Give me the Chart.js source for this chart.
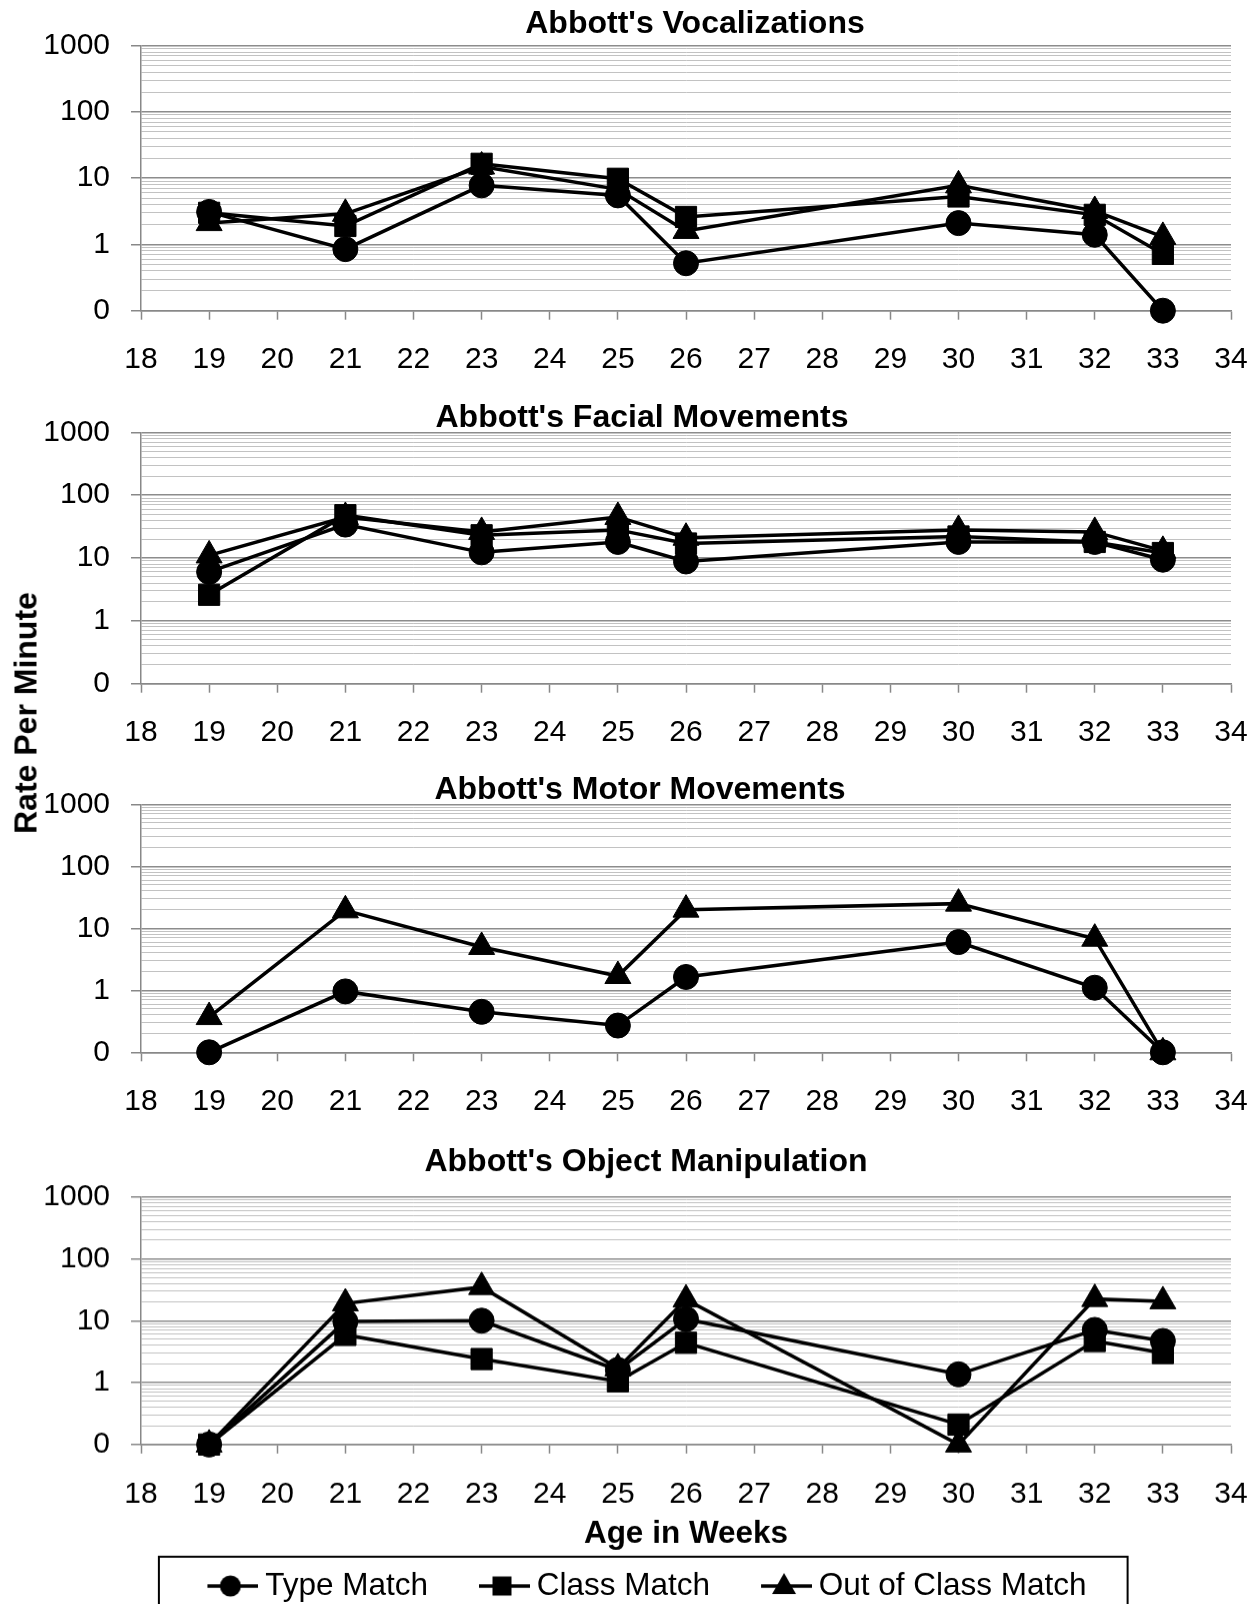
<!DOCTYPE html>
<html>
<head>
<meta charset="utf-8">
<title>Abbott's rates per minute</title>
<script src="https://cdn.jsdelivr.net/npm/chart.js@4.4.1/dist/chart.umd.min.js"></script>
<style>
  html, body { margin: 0; padding: 0; background: #fff; overflow: hidden; }
  body { width: 1255px; height: 1604px; position: relative; }
  .panel { position: absolute; left: 0; }
  #yTitle {
    position: absolute; left: 26px; top: 713px;
    transform: translate(-50%, -50%) rotate(-90deg);
    font: bold 32px "Liberation Sans", Arial, sans-serif;
    white-space: nowrap; color: #000;
  }
</style>
</head>
<body>
<div class="panel" id="p1"><canvas id="c1"></canvas></div>
<div class="panel" id="p2"><canvas id="c2"></canvas></div>
<div class="panel" id="p3"><canvas id="c3"></canvas></div>
<div class="panel" id="p4"><canvas id="c4"></canvas></div>
<div id="yTitle">Rate Per Minute</div>
<script>
// ---- data (0.1 is the "0" floor of the log axis) ----
const weeks = [19, 21, 23, 25, 26, 30, 32, 33];
const seriesNames = ['Type Match', 'Class Match', 'Out of Class Match'];
const panelTitles = ["Abbott's Vocalizations", "Abbott's Facial Movements",
                     "Abbott's Motor Movements", "Abbott's Object Manipulation"];
const yTickLabels = ['0', '1', '10', '100', '1000'];   // 0.1, 1, 10, 100, 1000

const vocalType  = [3.1, 0.85, 7.8, 5.5, 0.52, 2.1, 1.4, 0.1];
const vocalClass = [3.0, 1.9, 16.5, 9.8, 2.6, 5.3, 2.8, 0.72];
const vocalOut   = [2.1, 2.9, 15, 6.8, 1.6, 7.8, 3.2, 1.3];

const facialType  = [6.0, 34, 12.3, 18, 8.8, 18, 18, 9.4];
const facialClass = [2.6, 48, 23, 28, 17, 22, 18, 12];
const facialOut   = [11, 45, 26, 45, 21, 28, 26, 13];

const motorType  = [0.1, 0.96, 0.45, 0.27, 1.64, 6.0, 1.1, 0.1];
const motorClass = [null, null, null, null, null, null, null, null];
const motorOut   = [0.37, 19.5, 5.0, 1.7, 20, 25, 6.8, 0.1];

const objType  = [0.1, 9.7, 10, 1.6, 10.6, 1.36, 7.1, 4.7];
const objClass = [0.1, 5.9, 2.4, 1.05, 4.4, 0.21, 4.7, 3.0];
const objOut   = [0.1, 19, 35, 1.7, 22, 0.1, 22.4, 20.6];

// ---- layout ----
const FONT = '"Liberation Sans", Arial, sans-serif';
const PLOT_LEFT = 141, PLOT_RIGHT = 1231;
const AXIS_GREY = '#888888';
const panels = [
  { top: 0,    width: 1390, height: 392,    titleTop: 8.5, titleBottom: 5.2,  xHeight: 81.3 },
  { top: 392,  width: 1284, height: 373,    titleTop: 9.8, titleBottom: -1.5, xHeight: 81.3 },
  { top: 765,  width: 1280, height: 372,    titleTop: 9.3, titleBottom: -2.0, xHeight: 84.7 },
  { top: 1137, width: 1292, height: 473.75, titleTop: 9.5, titleBottom: 18.2, xHeight: 76.45 }
];

Chart.defaults.font.family = FONT;
Chart.defaults.color = '#000';

function isDecade(v) {
  const l = Math.log10(v);
  return Math.abs(l - Math.round(l)) < 1e-6;
}
function isWholeMantissa(v) {
  const m = v / Math.pow(10, Math.floor(Math.log10(v) + 1e-9));
  return Math.abs(m - Math.round(m)) < 1e-6;
}

// legend icon: short line with the marker on it
function legendIcon(style) {
  const c = document.createElement('canvas');
  c.width = 62; c.height = 32;
  const g = c.getContext('2d');
  g.strokeStyle = '#000'; g.fillStyle = '#000'; g.lineWidth = 3.5;
  g.beginPath(); g.moveTo(11, 16); g.lineTo(62, 16); g.stroke();
  const cx = 34, cy = 16;
  g.beginPath();
  if (style === 'circle') {
    g.arc(cx, cy, 10.5, 0, Math.PI * 2);
  } else if (style === 'rect') {
    g.rect(cx - 9.5, cy - 9.5, 19, 19);
  } else {
    g.moveTo(cx, cy - 13); g.lineTo(cx + 12, cy + 8); g.lineTo(cx - 12, cy + 8); g.closePath();
  }
  g.fill();
  return c;
}
const pointStyles = ['circle', 'rect', 'triangle'];
const pointSizes = [12.5, 15, 15];
const legendIcons = pointStyles.map(legendIcon);

const legendFrame = {
  id: 'legendFrame',
  afterDraw(chart) {
    const lg = chart.legend;
    if (!lg || !lg.options.display || !lg.legendHitBoxes || !lg.legendHitBoxes.length) return;
    const hb = lg.legendHitBoxes;
    const first = hb[0], last = hb[hb.length - 1];
    const left = first.left + 2 - 48.5;
    const right = last.left + last.width + 41;
    const top = first.top - 13.5;
    const ctx = chart.ctx;
    ctx.save();
    ctx.strokeStyle = '#000';
    ctx.lineWidth = 2;
    ctx.strokeRect(left, top, right - left, chart.height + 20 - top);
    ctx.restore();
  }
};

function makeDataset(i, values) {
  return {
    label: seriesNames[i],
    data: weeks.map((w, k) => ({ x: w, y: values[k] })),
    borderColor: '#000',
    backgroundColor: '#000',
    borderWidth: 3.5,
    pointStyle: pointStyles[i],
    pointRadius: pointSizes[i],
    pointHoverRadius: pointSizes[i],
    pointBackgroundColor: '#000',
    pointBorderColor: '#000',
    pointBorderWidth: 1,
    tension: 0,
    clip: false,
    order: 3 - i
  };
}

function makePanel(n, series, withFooter) {
  const p = panels[n];
  const box = document.getElementById('p' + (n + 1));
  box.style.top = p.top + 'px';
  box.style.width = p.width + 'px';
  box.style.height = p.height + 'px';

  const xScale = {
    type: 'linear', min: 18, max: 34,
    ticks: { stepSize: 1, autoSkip: false, maxRotation: 0, color: '#000',
             font: { size: 30 }, padding: 22.5 },
    grid: { drawOnChartArea: false, drawTicks: true, tickLength: 9,
            tickColor: AXIS_GREY, tickWidth: 1.5 },
    border: { color: AXIS_GREY, width: 1.5 },
    afterFit: s => { s.height = p.xHeight; }
  };
  if (withFooter) {
    xScale.title = { display: true, text: 'Age in Weeks', color: '#000',
                     font: { size: 31.5, weight: 'bold', lineHeight: 1 },
                     padding: { top: 0, bottom: -29 } };
  }

  new Chart(document.getElementById('c' + (n + 1)), {
    type: 'line',
    data: { datasets: series.map((v, i) => makeDataset(i, v)) },
    options: {
      responsive: true,
      maintainAspectRatio: false,
      animation: false,
      layout: { padding: 0 },
      plugins: {
        tooltip: { enabled: false },
        title: {
          display: true, text: panelTitles[n], color: '#000',
          font: { size: 32, weight: 'bold', lineHeight: 1 },
          padding: { top: p.titleTop, bottom: p.titleBottom }
        },
        legend: withFooter ? {
          display: true, position: 'bottom', align: 'center',
          labels: {
            usePointStyle: true, pointStyleWidth: 44, padding: 49, color: '#000',
            font: { size: 31.5 },
            generateLabels: chart => chart.data.datasets.map((d, i) => ({
              text: d.label, pointStyle: legendIcons[i], datasetIndex: i,
              fillStyle: '#000', strokeStyle: '#000', lineWidth: 0,
              hidden: false, fontColor: '#000'
            }))
          }
        } : { display: false }
      },
      scales: {
        x: xScale,
        y: {
          type: 'logarithmic', min: 0.1, max: 1000,
          afterBuildTicks: s => { s.ticks = s.ticks.filter(t => isWholeMantissa(t.value)); },
          ticks: {
            autoSkip: false, color: '#000', font: { size: 30 }, padding: 21,
            callback: v => isDecade(v) ? yTickLabels[Math.round(Math.log10(v)) + 1] : ''
          },
          grid: {
            color: c => (c.tick && isDecade(c.tick.value)) ? '#8c8c8c' : '#c2c2c2',
            lineWidth: c => (c.tick && isDecade(c.tick.value)) ? 1.5 : 1,
            tickLength: 10,
            tickColor: c => (c.tick && isDecade(c.tick.value)) ? AXIS_GREY : 'rgba(0,0,0,0)',
            tickWidth: 1.5
          },
          border: { color: AXIS_GREY, width: 1.5 },
          afterFit: s => { s.width = PLOT_LEFT; }
        },
        yR: {
          position: 'right',
          grid: { display: false, drawTicks: false },
          border: { display: false },
          ticks: { display: false },
          afterFit: s => { s.width = p.width - PLOT_RIGHT; }
        }
      }
    },
    plugins: withFooter ? [legendFrame] : []
  });
}

makePanel(0, [vocalType, vocalClass, vocalOut], false);
makePanel(1, [facialType, facialClass, facialOut], false);
makePanel(2, [motorType, motorClass, motorOut], false);
makePanel(3, [objType, objClass, objOut], true);
</script>
</body>
</html>
